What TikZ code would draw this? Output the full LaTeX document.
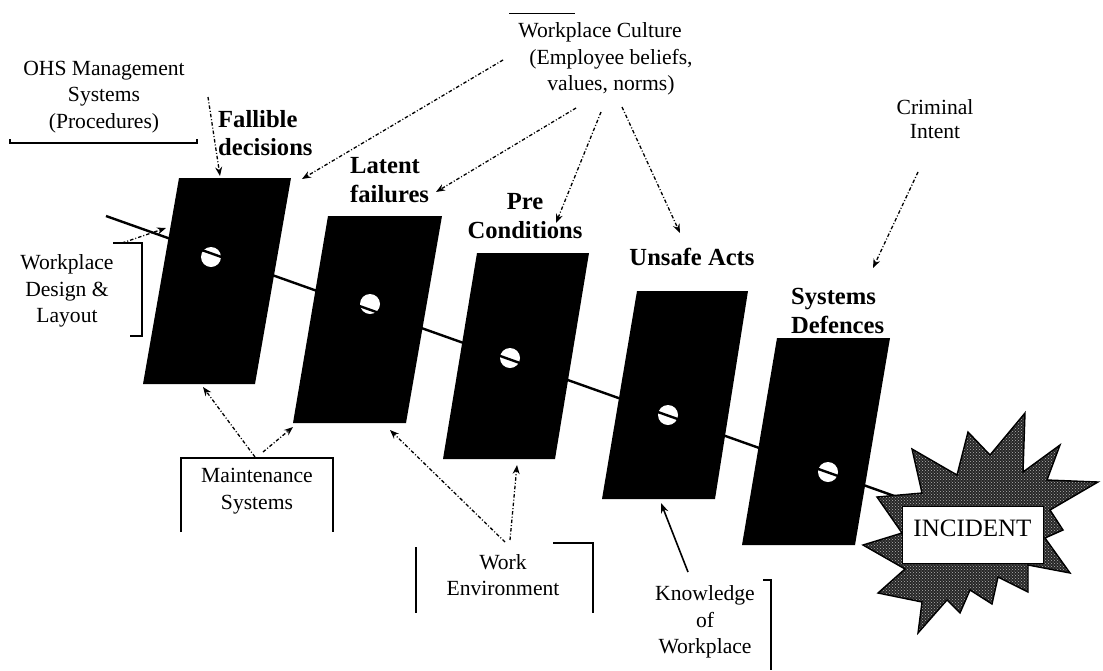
\documentclass[tikz,border=0pt]{standalone}
\usepackage{fontspec}
\setmainfont{Liberation Serif}
\usetikzlibrary{arrows.meta,patterns}
\begin{document}
\begin{tikzpicture}[x=1pt,y=-1pt,
  lbl/.style={inner sep=0pt, font=\fontsize{21.6}{26.5}\selectfont, align=center},
  blbl/.style={inner sep=0pt, font=\fontsize{24.6}{28.5}\selectfont\bfseries},
  panel/.style={fill=black},
  hole/.style={fill=white},
  infl/.style={line width=1.3pt, dash pattern=on 3.5pt off 2pt on 1pt off 2pt, -{Stealth[length=9pt,width=7pt]}},
  solidarrow/.style={line width=1.6pt, -{Stealth[length=10pt,width=7.5pt]}},
  bracket/.style={line width=1.6pt},
  chain/.style={line width=2.4pt}
]
\useasboundingbox (0,0) rectangle (1103,670);

% panels
\fill[panel] (179,178) -- (291,178) -- (255,384) -- (143,384) -- cycle;
\fill[panel] (328,216) -- (442,216) -- (406,423) -- (293,423) -- cycle;
\fill[panel] (477,253) -- (589,253) -- (555,459) -- (443,459) -- cycle;
\fill[panel] (637,291) -- (748,291) -- (715,499) -- (602,499) -- cycle;
\fill[panel] (777,338) -- (890,338) -- (855,545) -- (742,545) -- cycle;

% holes
\fill[hole] (211,257) circle[radius=10pt];
\fill[hole] (370,304) circle[radius=10pt];
\fill[hole] (510,358) circle[radius=10pt];
\fill[hole] (668,415) circle[radius=10pt];
\fill[hole] (828,472) circle[radius=10pt];

% chain line
\coordinate (c0) at (106,216);
\coordinate (c1) at (900,498);
\draw[chain] (c0) -- (c1);

% starburst
\path[preaction={fill=black!85}, pattern=crosshatch dots, pattern color=white!70!black,
      draw=black, line width=1.4pt, line join=miter]
  (912,449) -- (957,475) -- (968,432) -- (990,455) -- (1025,413) -- (1023,472)
  -- (1060,445) -- (1047,480) -- (1098,482) -- (1050,510) -- (1063,530)
  -- (1045,538) -- (1070,573) -- (1028,565) -- (1028,592) -- (998,577)
  -- (992,604) -- (970,590) -- (960,613) -- (947,600) -- (918,633)
  -- (922,602) -- (878,593) -- (905,569) -- (863,545) -- (902,533)
  -- (877,497) -- (922,493) -- cycle;
\node[draw=black, line width=0.6pt, fill=white, minimum width=141pt, minimum height=57pt,
      text depth=12pt, inner sep=0pt, font=\fontsize{25}{30}\selectfont] (inc) at (972.5,534.5) {INCIDENT};

% labels
\node[lbl] (ohs) at (104,97) {OHS Management\\Systems\\(Procedures)};
\node[lbl] (wcult) at (611,59) {Workplace Culture\hspace*{22pt}\\(Employee beliefs,\\values, norms)};
\node[blbl, align=left, anchor=west] (fall) at (218,133) {Fallible\\decisions};
\node[blbl, align=left, anchor=west] (lat) at (350,180) {Latent\\failures};
\node[blbl, align=center] (pre) at (525,216) {Pre\\Conditions};
\node[blbl] (unsafe) at (692,257) {Unsafe Acts};
\node[blbl, align=left, anchor=west] (sysdef) at (791,311) {Systems\\Defences};
\node[lbl, font=\fontsize{21.6}{24}\selectfont] (crim) at (935,119) {Criminal\\Intent};
\node[lbl] (wdl) at (67,291) {Workplace\\Design \&\\Layout};
\node[lbl] (maint) at (257,491) {Maintenance\\Systems};
\node[lbl] (workenv) at (503,575) {Work\\Environment};
\node[lbl] (know) at (705,622) {Knowledge\\of\\Workplace};

% brackets
\draw[bracket] (10,139) -- (10,143) -- (197,143) -- (197,139);
\draw[line width=1pt] (509,13) -- (575,13);
\draw[bracket] (113,243) -- (142,243) -- (142,336) -- (130,336);
\draw[bracket] (181,532) -- (181,458) -- (333,458) -- (333,532);
\draw[bracket] (416,547) -- (416,613);
\draw[bracket] (553,543) -- (593,543) -- (593,613);
\draw[bracket] (763,580) -- (771,580) -- (771,670);

% connector end points
\coordinate (ohsA) at (208,97);   \coordinate (p1top) at (220,176);
\coordinate (wc1) at (503,60);    \coordinate (p1tr) at (302,179);
\coordinate (wc2) at (576,108);   \coordinate (latEnd) at (436,192);
\coordinate (wc3) at (601,112);   \coordinate (preEnd) at (556,223);
\coordinate (wc4) at (622,107);   \coordinate (unsafeEnd) at (680,233);
\coordinate (ciA) at (918,172);   \coordinate (defEnd) at (873,268);
\coordinate (wdA) at (122,243);   \coordinate (p1left) at (166,228);
\coordinate (ms1) at (255,457);   \coordinate (p1bot) at (203,387);
\coordinate (ms2) at (263,452);   \coordinate (p2bl) at (293,427);
\coordinate (we1) at (505,542);   \coordinate (p2bot) at (390,430);
\coordinate (we2) at (510,540);   \coordinate (p3bot) at (517,465);
\coordinate (kwA) at (688,572);   \coordinate (p4bot) at (661,503);

% connectors
\draw[infl] (ohsA) -- (p1top);
\draw[infl] (wc1) -- (p1tr);
\draw[infl] (wc2) -- (latEnd);
\draw[infl] (wc3) -- (preEnd);
\draw[infl] (wc4) -- (unsafeEnd);
\draw[infl] (ciA) -- (defEnd);
\draw[infl] (wdA) -- (p1left);
\draw[infl] (ms1) -- (p1bot);
\draw[infl] (ms2) -- (p2bl);
\draw[infl] (we1) -- (p2bot);
\draw[infl] (we2) -- (p3bot);
\draw[solidarrow] (kwA) -- (p4bot);
\end{tikzpicture}
\end{document}
